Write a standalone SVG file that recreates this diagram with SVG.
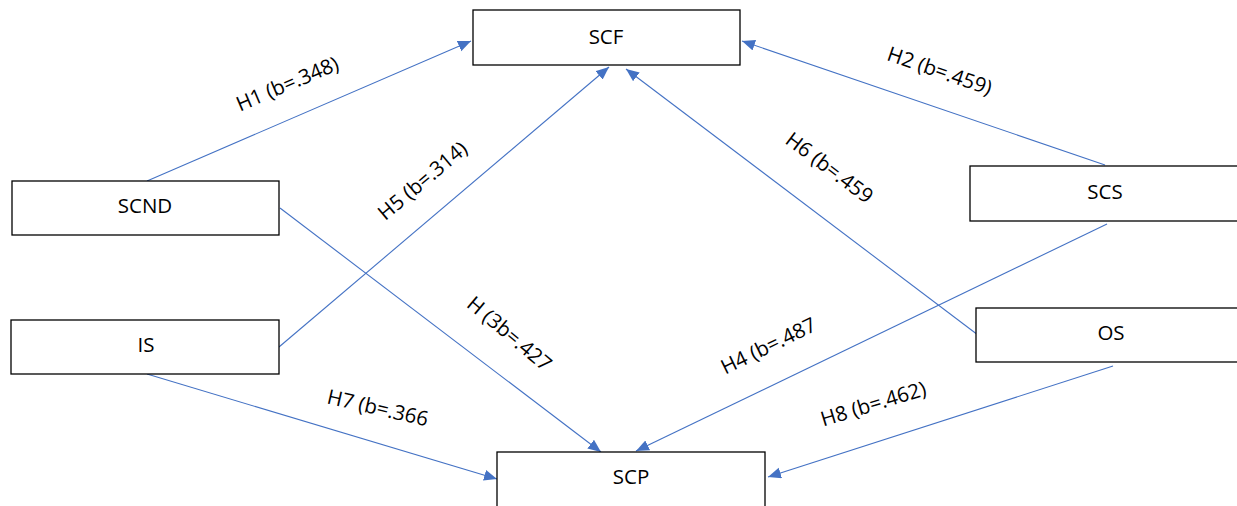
<svg xmlns="http://www.w3.org/2000/svg" width="1237" height="506" viewBox="0 0 1237 506">
<style>
.box{fill:#fff;stroke:#000;stroke-width:1.3}
.t{font-family:"Open Sans","Liberation Sans",sans-serif;font-size:20.5px;fill:#000;text-anchor:middle;dominant-baseline:central}
.c{stroke:#4472C4;stroke-width:1.1;fill:none;marker-end:url(#ah)}
.l{font-family:"Open Sans","Liberation Sans",sans-serif;font-size:20.5px;fill:#000;text-anchor:middle;dominant-baseline:central}
</style>
<defs>
<marker id="ah" markerUnits="userSpaceOnUse" markerWidth="14" markerHeight="12" refX="13" refY="5.5" orient="auto">
<path d="M0,0 L13,5.5 L0,11 Z" fill="#4472C4"/>
</marker>
</defs>
<rect width="1237" height="506" fill="#fff"/>
<g id="connectors">
<line class="c" x1="147" y1="181" x2="471" y2="41"/>
<line class="c" x1="279" y1="347" x2="609" y2="67"/>
<line class="c" x1="280" y1="208" x2="601" y2="452"/>
<line class="c" x1="147" y1="374" x2="497" y2="479"/>
<line class="c" x1="1105" y1="165" x2="742" y2="41"/>
<line class="c" x1="978" y1="335" x2="626" y2="69"/>
<line class="c" x1="1107" y1="224" x2="636" y2="451"/>
<line class="c" x1="1113" y1="366" x2="768" y2="477"/>
<text class="l" transform="translate(287,83) rotate(-23)">H1 (b=.348)</text>
<text class="l" transform="translate(422,180) rotate(-40)">H5 (b=.314)</text>
<text class="l" transform="translate(940,70) rotate(19)">H2 (b=.459)</text>
<text class="l" transform="translate(830,167) rotate(37)">H6 (b=.459</text>
<text class="l" transform="translate(510,333) rotate(40)">H (3b=.427</text>
<text class="l" transform="translate(378,407) rotate(13)">H7 (b=.366</text>
<text class="l" transform="translate(768,345) rotate(-26)">H4 (b=.487</text>
<text class="l" transform="translate(873,403) rotate(-17)">H8 (b=.462)</text>
</g>
<g id="SCF"><rect class="box" x="473" y="10" width="267" height="55"/><text class="t" x="606" y="36">SCF</text></g>
<g id="SCND"><rect class="box" x="12" y="181" width="267" height="54"/><text class="t" x="145" y="205">SCND</text></g>
<g id="IS"><rect class="box" x="11" y="320" width="268" height="54"/><text class="t" x="146" y="344">IS</text></g>
<g id="SCS"><rect class="box" x="970" y="166" width="268" height="55"/><text class="t" x="1105" y="191">SCS</text></g>
<g id="OS"><rect class="box" x="976" y="308" width="268" height="54"/><text class="t" x="1111" y="332">OS</text></g>
<g id="SCP"><rect class="box" x="497" y="452" width="268" height="60"/><text class="t" x="631" y="476">SCP</text></g>
</svg>
